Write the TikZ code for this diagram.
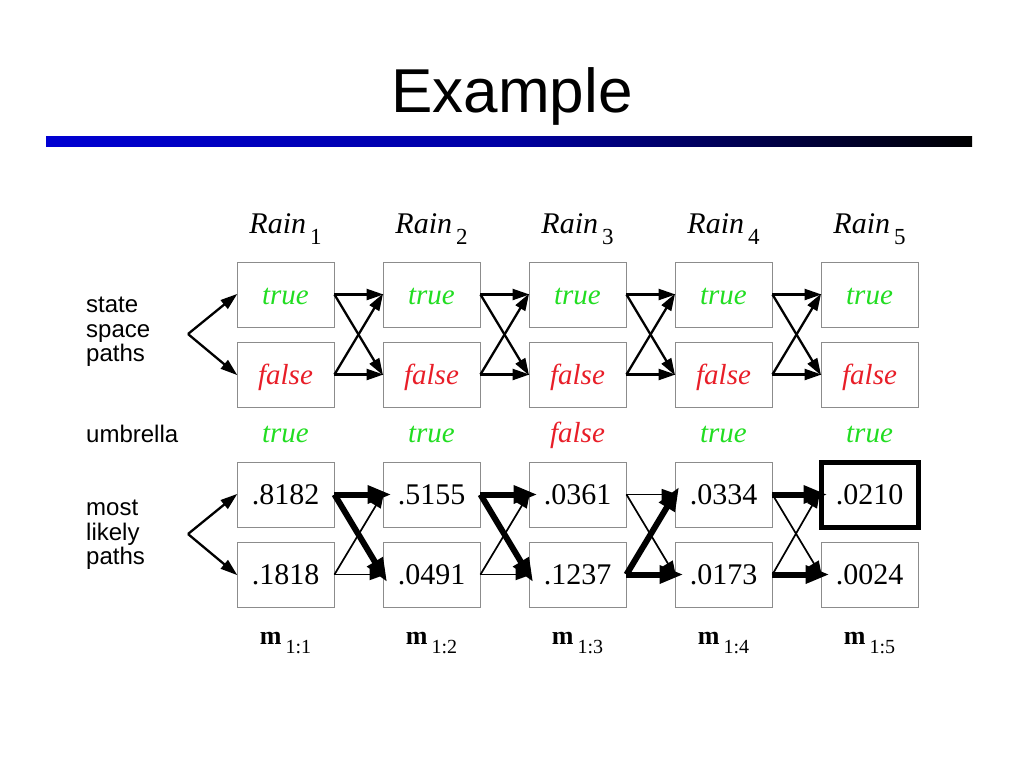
\documentclass[tikz,border=0pt]{standalone}
\usepackage{fontspec}
\setmainfont{Liberation Serif}
\newfontfamily\helv{Liberation Sans}
\usetikzlibrary{arrows.meta}
\definecolor{tgreen}{RGB}{34,221,34}
\definecolor{fred}{RGB}{232,30,40}
\definecolor{barblue}{RGB}{0,0,210}
\definecolor{barmid}{RGB}{0,0,165}
\begin{document}
\begin{tikzpicture}[x=1pt,y=-1pt,
  box/.style={draw=black!45, line width=0.9pt, minimum width=97pt, minimum height=65pt,
    inner sep=0pt, text height=20pt, text depth=0pt},
  tf/.style={font=\fontsize{29}{29}\selectfont\itshape},
  num/.style={font=\fontsize{30}{30}\selectfont},
  lab/.style={font=\helv\fontsize{24}{24.5}\selectfont, align=left, inner sep=0pt},
  upar/.style={-{Triangle[length=17pt,width=11pt]}, line width=2.3pt, shorten >=-1pt},
  thinar/.style={-{Triangle[length=16pt,width=11pt]}, line width=1.7pt, shorten >=-3pt},
  thickar/.style={-{Triangle[length=24pt,width=17pt]}, line width=6pt, shorten >=-9pt},
  hdr/.style={anchor=base, inner sep=0pt}
]
\useasboundingbox (0,0) rectangle (1024,768);

% title and bar
\node[anchor=base, font=\helv\fontsize{62}{62}\selectfont] (title) at (512,112) {Example};
\shade[left color=barblue, right color=barmid] (46,136) rectangle (500,146);
\shade[left color=barmid, right color=black] (500,136) rectangle (972,146);

% left labels
\node[lab, anchor=west] (lstate) at (86,332) {state\\space\\paths};
\node[lab, anchor=base west] (lumb) at (86,442) {umbrella};
\node[lab, anchor=west] (lmost) at (86,535) {most\\likely\\paths};

% columns
\foreach \i/\x/\u/\a/\b in {1/285.5/true/.8182/.1818, 2/431.5/true/.5155/.0491,
    3/577.5/false/.0361/.1237, 4/723.5/true/.0334/.0173, 5/869.5/true/.0210/.0024} {
  \node[hdr, font=\fontsize{30}{30}\selectfont] (rain\i) at (\x,233)
     {\textit{Rain}\hspace{4pt}\raisebox{-11pt}{\fontsize{23}{23}\selectfont\upshape\i}};
  \node[box, tf] (st\i) at (\x,294.5) {\textcolor{tgreen}{true}};
  \node[box, tf] (sf\i) at (\x,374.5) {\textcolor{fred}{false}};
  \node[hdr, tf] (umb\i) at (\x,442) {\ifnum\pdfstrcmp{\u}{true}=0 \textcolor{tgreen}{true}\else\textcolor{fred}{false}\fi};
  \node[box, num] (mf\i) at (\x,574.5) {\b};
  \node[hdr] (mm\i) at (\x,644) {\fontsize{26}{26}\selectfont\bfseries m\hspace{4pt}\raisebox{-9pt}{\fontsize{20}{20}\selectfont\mdseries 1:\i}};
}
\node[box, num] (mt1) at (285.5,494.5) {.8182};
\node[box, num] (mt2) at (431.5,494.5) {.5155};
\node[box, num] (mt3) at (577.5,494.5) {.0361};
\node[box, num] (mt4) at (723.5,494.5) {.0334};
\node[box, num, draw=black, line width=5pt] (mt5) at (869.5,494.5) {.0210};

% left splits
\coordinate (ssplit) at (188,334);
\coordinate (msplit) at (188,534);
\draw[upar] (ssplit) -- (st1.west);
\draw[upar] (ssplit) -- (sf1.west);
\draw[upar] (msplit) -- (mt1.west);
\draw[upar] (msplit) -- (mf1.west);

% state space paths
\foreach \i/\j in {1/2,2/3,3/4,4/5} {
  \draw[upar] (st\i.east) -- (st\j.west);
  \draw[upar] (st\i.east) -- (sf\j.west);
  \draw[upar] (sf\i.east) -- (st\j.west);
  \draw[upar] (sf\i.east) -- (sf\j.west);
}

% most likely paths
\draw[thinar] (mf1.east) -- (mt2.west);
\draw[thinar] (mf1.east) -- (mf2.west);
\draw[thickar] (mt1.east) -- (mt2.west);
\draw[thickar] (mt1.east) -- (mf2.west);

\draw[thinar] (mf2.east) -- (mt3.west);
\draw[thinar] (mf2.east) -- (mf3.west);
\draw[thickar] (mt2.east) -- (mt3.west);
\draw[thickar] (mt2.east) -- (mf3.west);

\draw[thinar] (mt3.east) -- (mt4.west);
\draw[thinar] (mt3.east) -- (mf4.west);
\draw[thickar] (mf3.east) -- (mt4.west);
\draw[thickar] (mf3.east) -- (mf4.west);

\draw[thinar] (mt4.east) -- (mf5.west);
\draw[thinar] (mf4.east) -- (mt5.west);
\draw[thickar] (mt4.east) -- (mt5.west);
\draw[thickar] (mf4.east) -- (mf5.west);
\end{tikzpicture}
\end{document}
